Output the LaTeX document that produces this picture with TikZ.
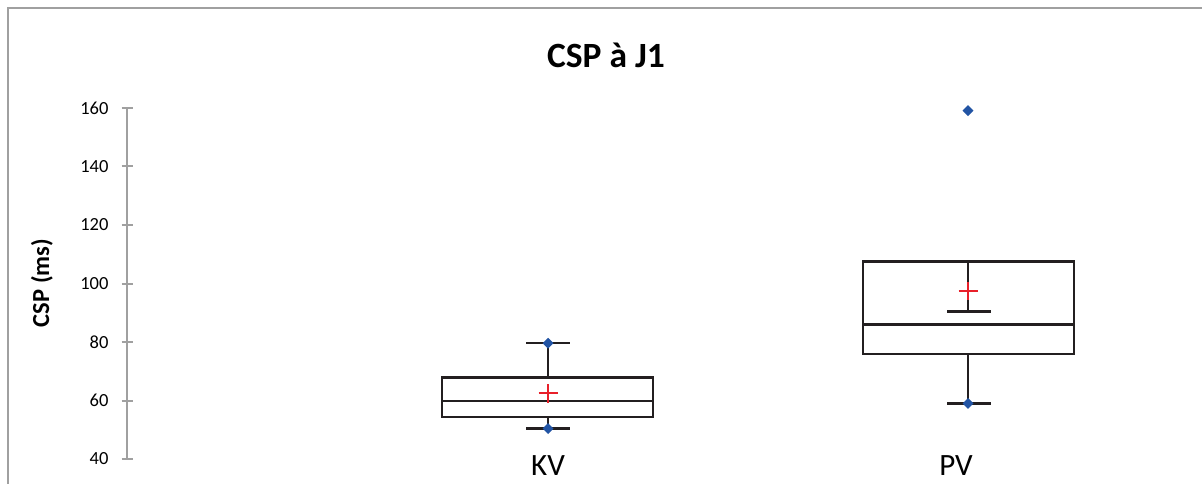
\documentclass[tikz,border=0pt]{standalone}
\usepackage{fontspec}
\setmainfont{Carlito}
\usetikzlibrary{shapes.geometric,positioning}
\definecolor{framegray}{RGB}{160,160,160}
\definecolor{boxblack}{RGB}{35,31,32}
\definecolor{ptblue}{RGB}{34,84,164}
\definecolor{meanred}{RGB}{232,32,42}
\tikzset{boxline/.style={boxblack, line width=2.5pt},
  outpt/.style={diamond, fill=ptblue, inner sep=0pt, minimum size=11pt},
  meanmk/.style={meanred, line width=1.8pt},
  axisline/.style={framegray, line width=2pt}}

\begin{document}
\begin{tikzpicture}[x=1pt,y=1pt]
\useasboundingbox (0,0) rectangle (1202,483);
\draw[framegray, line width=2pt] (8,-5) -- (8,475) -- (1210,475);

\node[font=\bfseries\fontsize{35.5}{38}\selectfont] (title) at (606,428) {CSP à J1};
\node[rotate=90,font=\bfseries\fontsize{24.5}{27}\selectfont] (ylab) at (42,200) {CSP (ms)};

\node[anchor=base,font=\fontsize{31}{34}\selectfont] (kv) at (548,8) {KV};
\node[anchor=base,font=\fontsize{31}{34}\selectfont] (pv) at (956,8) {PV};

\begin{scope}[yshift=-93pt, y=2.925pt]
\draw[axisline] (127,40) -- (127,160);
\foreach \v in {40,60,...,160}
         {
           \draw[axisline] (121.5,\v) -- (133,\v);
           \node[anchor=east,font=\fontsize{18.5}{20}\selectfont] (t\v) at (112,\v) {\v};
         }

% KV
\draw[boxline] (442,54.3) rectangle (653,67.9);
\draw[boxline] (442,59.8) -- (653,59.8);
\draw[boxline] (548,67.9) -- (548,79.6);
\draw[boxline] (548,54.3) -- (548,50.4);
\draw[boxline] (526,79.6) -- (570,79.6);
\draw[boxline] (526,50.4) -- (570,50.4);
\node[outpt] (kvmax) at (548,79.6) {};
\node[outpt] (kvmin) at (548,50.4) {};
\draw[meanmk] (538.5,62.5) -- (557.5,62.5);
\draw[meanmk] (548,59.3) -- (548,65.7);

% PV
\draw[boxline] (863,75.9) rectangle (1074,107.5);
\draw[boxline] (863,85.9) -- (1074,85.9);
\draw[boxline] (968,107.5) -- (968,90.4);
\draw[boxline] (968,75.9) -- (968,59.0);
\draw[boxline] (947,90.4) -- (991,90.4);
\draw[boxline] (947,59.0) -- (991,59.0);
\node[outpt] (pvmin) at (968,59.0) {};
\node[outpt] (pvout) at (968,159.1) {};
\draw[meanmk] (958.5,97.5) -- (977.5,97.5);
\draw[meanmk] (968,94.4) -- (968,100.6);
\end{scope}
\end{tikzpicture}
\end{document}
